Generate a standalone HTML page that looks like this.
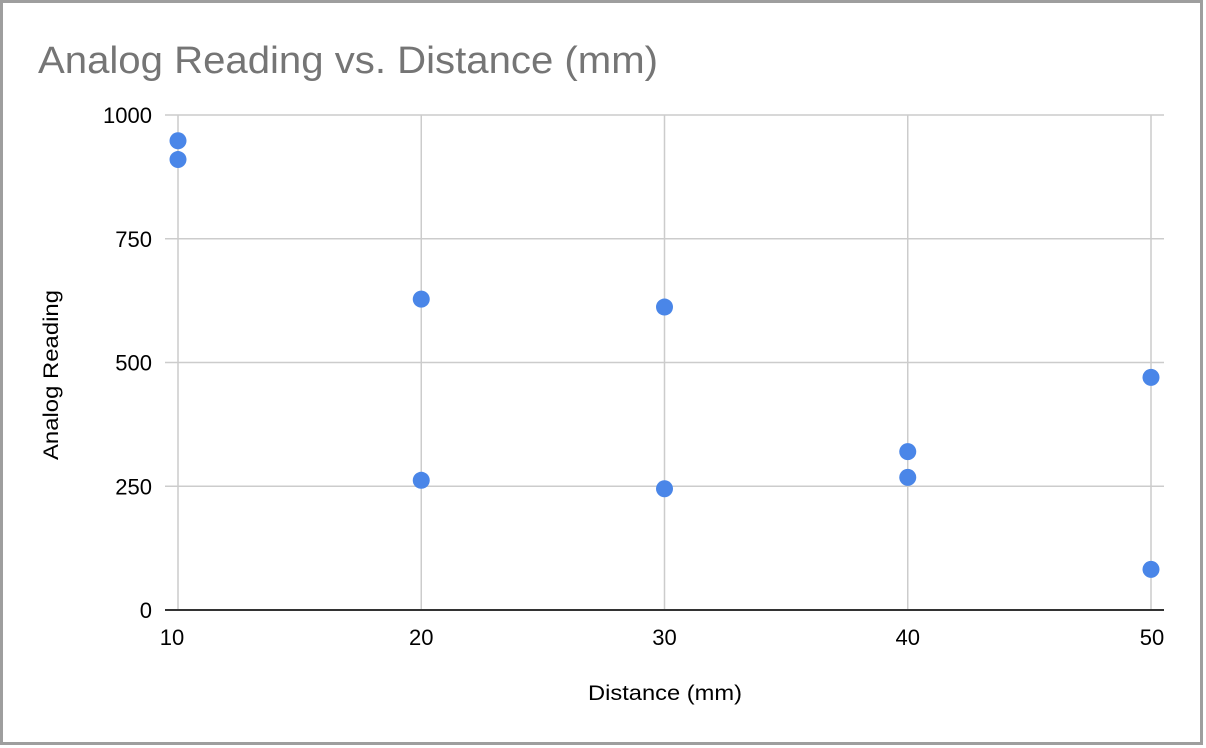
<!DOCTYPE html>
<html><head><meta charset="utf-8"><style>
body{margin:0;background:#fff;font-family:"Liberation Sans",Arial,sans-serif}
svg{display:block}
</style></head><body>
<svg id="chart" width="1206" height="748">
<rect x="1.5" y="1.5" width="1200" height="742" fill="#fff" stroke="#9e9e9e" stroke-width="3"/>
<text x="38" y="73" font-size="38" fill="#757575" textLength="620" lengthAdjust="spacingAndGlyphs">Analog Reading vs. Distance (mm)</text>
<text x="588" y="700" font-size="21" textLength="154" lengthAdjust="spacingAndGlyphs" fill="#000">Distance (mm)</text>
<text transform="translate(58,460) rotate(-90)" font-size="21" textLength="170" lengthAdjust="spacingAndGlyphs" fill="#000">Analog Reading</text>
<g id="grid"></g><g id="pts"></g>
</svg>
<script>
const xTicks=[10,20,30,40,50];
const yTicks=[0,250,500,750,1000];
const xVals=[10,10,20,20,30,30,40,40,50,50];
const yVals=[948,910,628,262,612,245,320,268,470,82];
const ns="http://www.w3.org/2000/svg";
const sx=v=>178+(v-10)*(1151-178)/40;
const sy=v=>610-v*(610-115)/1000;
const g=document.getElementById('grid'),p=document.getElementById('pts');
function mk(t,a,parent){const e=document.createElementNS(ns,t);for(const k in a)e.setAttribute(k,a[k]);parent.appendChild(e);return e;}
yTicks.forEach(v=>{
 if(v>0){const l=mk('line',{x1:165,x2:1164,y1:sy(v),y2:sy(v),stroke:'#cccccc','stroke-width':1.5},g);
 
 }
 const t=mk('text',{x:152,y:sy(v)+8,'font-size':22,'text-anchor':'end'},g);t.textContent=v;
 
 
});
xTicks.forEach(v=>{
 const l=mk('line',{x1:sx(v),x2:sx(v),y1:115,y2:610,stroke:'#cccccc','stroke-width':1.5},g);
 
 
 const t=mk('text',{x:sx(v)-(v===10?6:v===50?-1:0),y:645,'font-size':22,'text-anchor':'middle'},g);t.textContent=v;
 
 
});
const ax=mk('line',{x1:165,x2:1164,y1:610,y2:610,stroke:'#333','stroke-width':2},g);


xVals.forEach((x,i)=>{
 const c=mk('circle',{cx:sx(x),cy:sy(yVals[i]),r:8.5,fill:'#4a86e8'},p);
 
 
});
</script>
</body></html>
